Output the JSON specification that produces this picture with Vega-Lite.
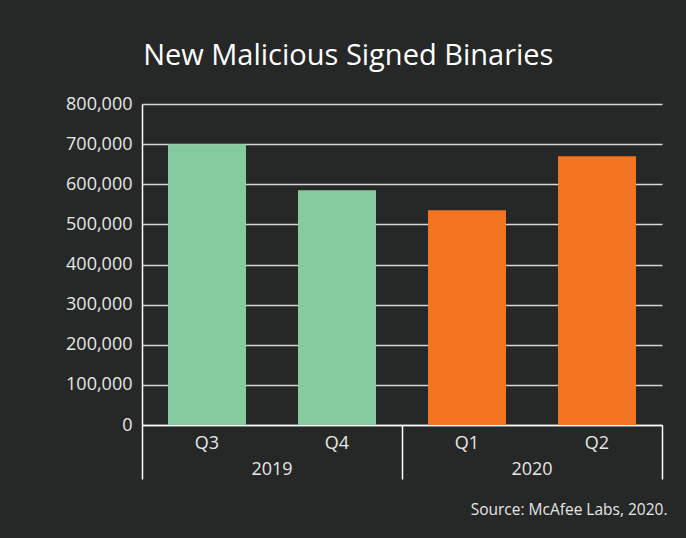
{
  "$schema": "https://vega.github.io/schema/vega-lite/v6.json",
  "width": 520,
  "height": 321,
  "autosize": {"type": "none"},
  "padding": {"left": 142, "top": 104, "right": 24, "bottom": 113},
  "background": "#262727",
  "title": {
    "text": "New Malicious Signed Binaries",
    "fontSize": 29,
    "font": "Open Sans",
    "fontWeight": "normal",
    "color": "#ffffff",
    "anchor": "middle",
    "frame": "bounds",
    "offset": 24,
    "dx": -18
  },
  "data": {
    "values": [
      {"year": "2019", "quarter": "Q3", "value": 700000},
      {"year": "2019", "quarter": "Q4", "value": 585000},
      {"year": "2020", "quarter": "Q1", "value": 535000},
      {"year": "2020", "quarter": "Q2", "value": 670000}
    ]
  },
  "config": {
    "font": "Open Sans",
    "view": {"stroke": null},
    "axis": {
      "labelFont": "Open Sans",
      "titleFont": "Open Sans",
      "labelColor": "#e6e6e6",
      "titleColor": "#e6e6e6"
    }
  },
  "layer": [
    {
      "mark": {"type": "bar"},
      "encoding": {
        "x": {
          "field": "quarter",
          "type": "nominal",
          "sort": ["Q3", "Q4", "Q1", "Q2"],
          "scale": {"paddingInner": 0.4, "paddingOuter": 0.2},
          "axis": {
            "title": null,
            "labelAngle": 0,
            "labelFontSize": 18,
            "labelPadding": 9,
            "ticks": false,
            "domain": true,
            "domainColor": "#ffffff",
            "domainWidth": 1.5,
            "grid": false
          }
        },
        "y": {
          "field": "value",
          "type": "quantitative",
          "scale": {"domain": [0, 800000]},
          "axis": {
            "title": null,
            "format": ",d",
            "tickCount": 8,
            "labelFontSize": 18,
            "labelPadding": 10,
            "ticks": false,
            "domain": true,
            "domainColor": "#ffffff",
            "domainWidth": 1.5,
            "grid": true,
            "gridColor": "#d6d6d6",
            "gridWidth": 1.5
          }
        },
        "color": {
          "field": "year",
          "type": "nominal",
          "scale": {"domain": ["2019", "2020"], "range": ["#86CB9F", "#F37521"]},
          "legend": null
        }
      }
    },
    {
      "mark": {"type": "rule", "opacity": 0},
      "encoding": {
        "x": {
          "field": "year",
          "type": "ordinal",
          "scale": {"paddingInner": 0, "paddingOuter": 0},
          "axis": {
            "orient": "bottom",
            "bandPosition": 1,
            "tickExtra": true,
            "ticks": true,
            "tickSize": 54,
            "tickColor": "#ffffff",
            "tickWidth": 1.5,
            "domain": false,
            "grid": false,
            "labelAngle": 0,
            "labelFontSize": 18,
            "labelOffset": 0,
            "labelPadding": -19,
            "title": "Source: McAfee Labs, 2020.",
            "titleFontSize": 15.5,
            "titleFontWeight": "normal",
            "titleAnchor": "end",
            "titleAlign": "right",
            "titleX": 525,
            "titlePadding": 23
          }
        }
      }
    }
  ],
  "resolve": {"scale": {"x": "independent"}, "axis": {"x": "independent"}}
}
